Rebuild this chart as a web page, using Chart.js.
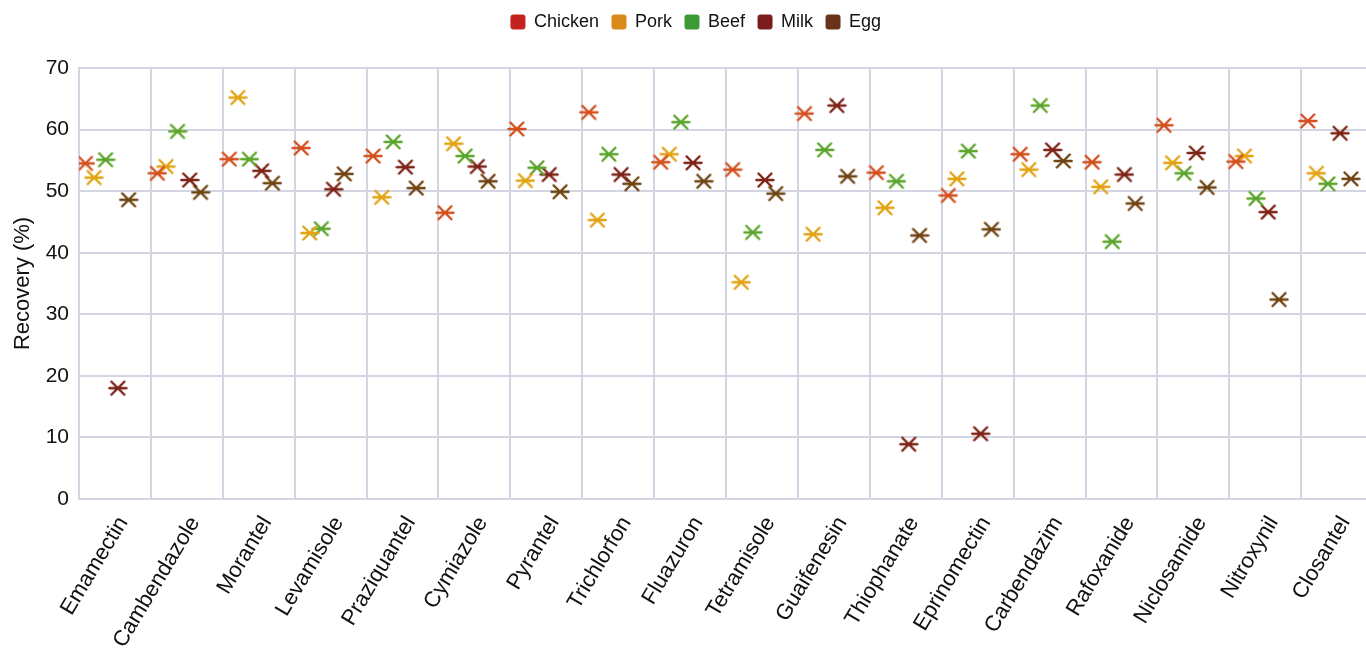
<!DOCTYPE html>
<html>
<head>
<meta charset="utf-8">
<script src="https://cdn.jsdelivr.net/npm/chart.js@4.4.1/dist/chart.umd.min.js"></script>
<style>
  html, body { margin: 0; padding: 0; background: #fff; overflow: hidden; }
  #wrap { width: 1366px; height: 652px; }
</style>
</head>
<body>
<div id="wrap"><canvas id="mycanvas"></canvas></div>
<script>
// drugs on the x axis
var drugs = ['Emamectin', 'Cambendazole', 'Morantel', 'Levamisole', 'Praziquantel',
    'Cymiazole', 'Pyrantel', 'Trichlorfon', 'Fluazuron', 'Tetramisole', 'Guaifenesin',
    'Thiophanate', 'Eprinomectin', 'Carbendazim', 'Rafoxanide', 'Niclosamide',
    'Nitroxynil', 'Closantel'];

// recovery (%) per matrix
var chicken = [54.5, 52.9, 55.2, 57.0, 55.7, 46.5, 60.1, 62.8, 54.7, 53.5, 62.6, 53.0, 49.3, 56.0, 54.7, 60.7, 54.8, 61.4];
var pork    = [52.2, 54.0, 65.2, 43.2, 49.0, 57.7, 51.7, 45.3, 56.0, 35.2, 43.0, 47.3, 52.0, 53.5, 50.7, 54.6, 55.7, 52.9];
var beef    = [55.1, 59.7, 55.2, 43.9, 58.0, 55.7, 53.8, 56.0, 61.2, 43.3, 56.7, 51.6, 56.5, 63.9, 41.8, 52.9, 48.8, 51.2];
var milk    = [18.0, 51.8, 53.3, 50.3, 53.9, 54.0, 52.7, 52.7, 54.6, 51.8, 63.9, 8.9, 10.6, 56.7, 52.7, 56.2, 46.6, 59.4];
var egg     = [48.6, 49.8, 51.3, 52.8, 50.5, 51.6, 49.9, 51.2, 51.6, 49.6, 52.4, 42.8, 43.8, 54.9, 48.0, 50.6, 32.4, 52.0];

var yTicks = [0, 10, 20, 30, 40, 50, 60, 70];

// x marker with a small horizontal bar
function marker(color) {
    var c = document.createElement('canvas');
    c.width = 20;
    c.height = 20;
    var g = c.getContext('2d');
    g.strokeStyle = color;
    g.lineWidth = 2.4;
    g.lineCap = 'round';
    g.beginPath();
    g.moveTo(3.5, 3.5); g.lineTo(16.5, 16.5);
    g.moveTo(16.5, 3.5); g.lineTo(3.5, 16.5);
    g.moveTo(1.5, 10); g.lineTo(18.5, 10);
    g.stroke();
    return c;
}

function series(label, values, shift, legendColor, pointColor) {
    return {
        label: label,
        data: values.map(function (v, i) { return { x: i + shift, y: v }; }),
        backgroundColor: legendColor,
        borderColor: legendColor,
        pointStyle: marker(pointColor),
        pointRadius: 8,
        showLine: false,
        clip: 0
    };
}

// extra room under the legend, and nudge it a bit right
var legendGap = {
    id: 'legendGap',
    beforeInit: function (chart) {
        var fit = chart.legend.fit;
        chart.legend.fit = function () {
            fit.call(chart.legend);
            this.height += 27;
        };
    },
    afterLayout: function (chart) {
        chart.legend.left += 13;
        chart.legend.right += 13;
    }
};

var font = 'Liberation Sans, Arial, sans-serif';
var ctx = document.getElementById('mycanvas');

var chart = new Chart(ctx, {
    type: 'scatter',
    data: {
        datasets: [
            series('Chicken', chicken, 0.09, '#c4221f', '#d4501f'),
            series('Pork', pork, 0.21, '#d98b1a', '#e2a313'),
            series('Beef', beef, 0.37, '#3d9a36', '#5ca52c'),
            series('Milk', milk, 0.54, '#7a1c1c', '#7d2216'),
            series('Egg', egg, 0.69, '#6b3219', '#6f4412')
        ]
    },
    options: {
        responsive: true,
        maintainAspectRatio: false,
        animation: false,
        layout: { autoPadding: false, padding: 0 },
        plugins: {
            legend: {
                position: 'top',
                labels: {
                    boxWidth: 14,
                    boxHeight: 14,
                    padding: 13,
                    useBorderRadius: true,
                    borderRadius: 2,
                    color: '#111',
                    font: { family: font, size: 18 }
                }
            },
            tooltip: { enabled: false }
        },
        scales: {
            x: {
                type: 'linear',
                min: 0,
                max: 17.9,
                afterBuildTicks: function (scale) {
                    scale.ticks = drugs.map(function (d, i) { return { value: i }; });
                },
                afterFit: function (scale) {
                    scale.height = 153;
                    scale.paddingLeft = 0;
                    scale.paddingRight = 0;
                },
                grid: { color: '#d3d6e2', lineWidth: 2, drawTicks: false },
                border: { color: '#d3d6e2', width: 2 },
                ticks: {
                    autoSkip: false,
                    minRotation: 59,
                    maxRotation: 59,
                    padding: 13,
                    labelOffset: 44,
                    color: '#111',
                    font: { family: font, size: 22 },
                    callback: function (v) { return drugs[v]; }
                }
            },
            y: {
                min: 0,
                max: 70,
                afterBuildTicks: function (scale) {
                    scale.ticks = yTicks.map(function (v) { return { value: v }; });
                },
                afterFit: function (scale) { scale.width = 79; },
                grid: { color: '#d3d6e2', lineWidth: 2, drawTicks: false },
                border: { color: '#d3d6e2', width: 2 },
                ticks: {
                    padding: 10,
                    color: '#111',
                    font: { family: font, size: 21 }
                },
                title: {
                    display: true,
                    text: 'Recovery (%)',
                    color: '#111',
                    padding: { top: 10, bottom: 0 },
                    font: { family: font, size: 22 }
                }
            }
        }
    },
    plugins: [legendGap]
});
</script>
</body>
</html>
